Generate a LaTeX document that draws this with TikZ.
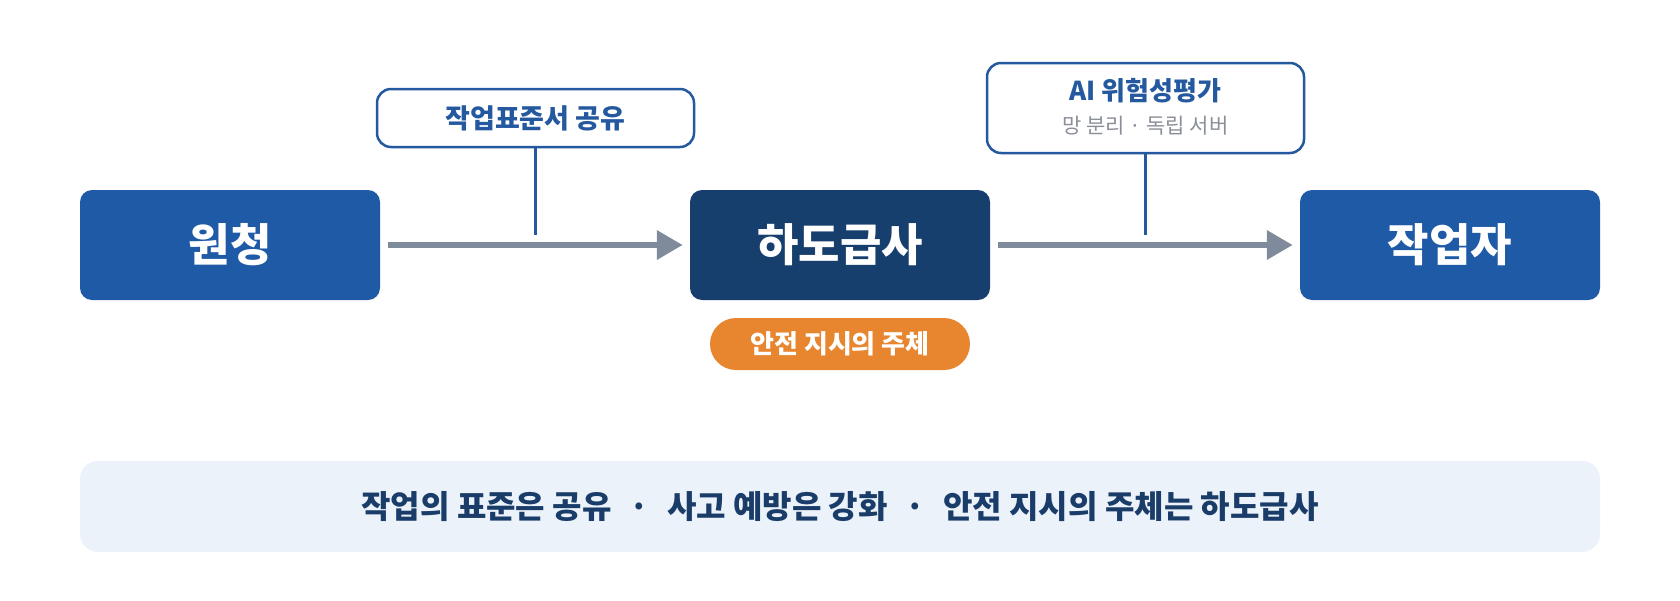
\documentclass[tikz,border=0pt]{standalone}
\usepackage{fontspec}
\setmainfont{Noto Sans CJK KR}
\usetikzlibrary{arrows.meta}
\definecolor{bluebox}{HTML}{1F5AA6}
\definecolor{darkbox}{HTML}{173F6D}
\definecolor{arrowgray}{HTML}{7F8A9B}
\definecolor{orangepill}{HTML}{E8862F}
\definecolor{panelbg}{HTML}{EBF2FA}
\definecolor{navytext}{HTML}{1A3C68}
\definecolor{labelblue}{HTML}{2459A0}
\definecolor{subgray}{HTML}{8A8F99}
\tikzset{
  mainbox/.style={rounded corners=12pt, minimum width=300pt, minimum height=110pt, inner sep=0pt,
    text=white, font=\fontsize{45}{52}\selectfont\bfseries},
  labelbox/.style={draw=labelblue, line width=2.5pt, fill=white, rounded corners=14pt, minimum width=317pt, inner sep=0pt},
  flowarrow/.style={draw=arrowgray, line width=6.5pt, -{Triangle[length=26pt,width=28pt]}, shorten <=8pt, shorten >=7pt},
  tether/.style={draw=labelblue, line width=2.5pt},
}
\begin{document}
\begin{tikzpicture}[x=1pt,y=-1pt]
\useasboundingbox (0,0) rectangle (1680,600);
% main boxes
\node[mainbox, fill=bluebox] (wc) at (230,245) {원청};
\node[mainbox, fill=darkbox] (hd) at (840,245) {하도급사};
\node[mainbox, fill=bluebox] (wk) at (1450,245) {작업자};
% arrows
\draw[flowarrow] (wc.east) -- (hd.west);
\draw[flowarrow] (hd.east) -- (wk.west);
% label 1
\node[labelbox, minimum height=58pt, text=labelblue, font=\fontsize{27}{32}\selectfont\bfseries] (lab1) at (535.5,118) {작업표준서 공유};
\coordinate (t1) at (535.5,235);
\draw[tether] (lab1.south) -- (t1);
% label 2
\node[labelbox, minimum height=90pt] (lab2) at (1145.5,108) {};
\node[text=labelblue, font=\fontsize{26}{30}\selectfont\bfseries, inner sep=0pt] (lab2t) at (1145.5,91) {AI 위험성평가};
\node[text=subgray, font=\fontsize{21}{25}\selectfont, inner sep=0pt] (lab2s) at (1145.5,126) {망 분리 · 독립 서버};
\coordinate (t2) at (1145.5,235);
\draw[tether] (lab2.south) -- (t2);
% orange pill
\node[fill=orangepill, rounded corners=26pt, minimum width=260pt, minimum height=52pt, inner sep=0pt,
  text=white, font=\fontsize{26}{30}\selectfont\bfseries] (pill) at (840,344) {안전 지시의 주체};
% bottom panel
\node[fill=panelbg, rounded corners=18pt, minimum width=1520pt, minimum height=91pt, inner sep=0pt,
  text=navytext, font=\fontsize{32}{38}\selectfont\bfseries] (panel) at (840,506.5)
  {작업의 표준은 공유\hspace{18pt}·\hspace{18pt}사고 예방은 강화\hspace{18pt}·\hspace{18pt}안전 지시의 주체는 하도급사};
\end{tikzpicture}
\end{document}
